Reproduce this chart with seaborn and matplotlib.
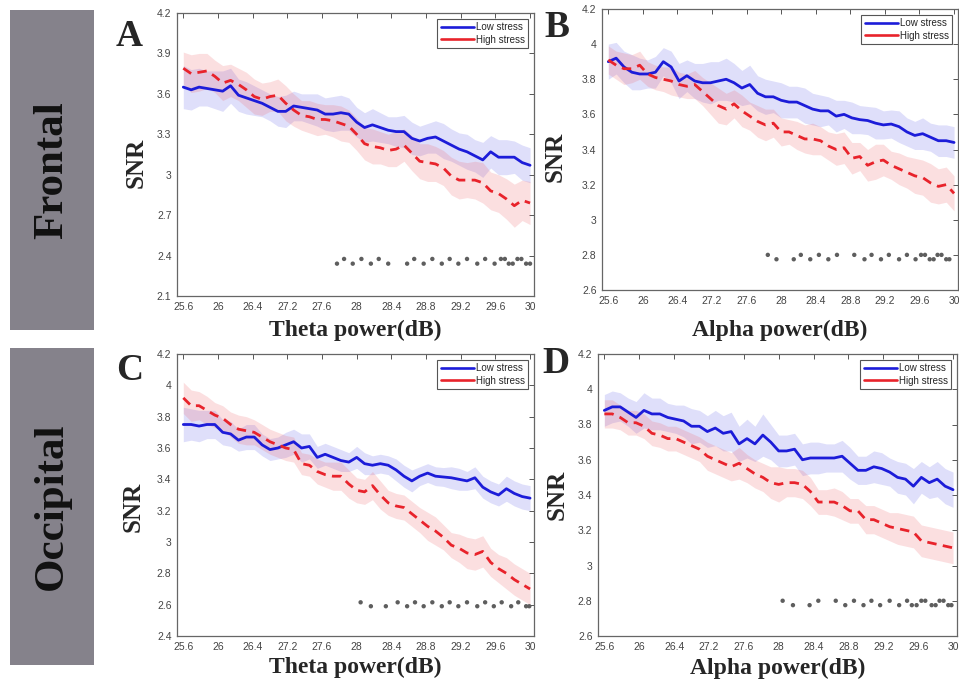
import numpy as np
import pandas as pd
import matplotlib
matplotlib.use("Agg")
import matplotlib.pyplot as plt
import seaborn as sns
from matplotlib.lines import Line2D
from matplotlib.patches import Rectangle

# ---------------- data ----------------
power_db = np.round(np.arange(256, 301) / 10, 1)  # 25.6 ... 30.0
xtick_labels = ['25.6', '26', '26.4', '27.2', '27.6', '28', '28.4', '28.8', '29.2', '29.6', '30']
groups = ['Low stress', 'High stress']

# Panel A  (Frontal, theta)
a_low = [3.65, 3.63, 3.65, 3.64, 3.63, 3.62, 3.66, 3.59, 3.57, 3.55, 3.53, 3.50, 3.47, 3.47, 3.51,
         3.50, 3.49, 3.48, 3.45, 3.45, 3.46, 3.45, 3.39, 3.35, 3.37, 3.35, 3.33, 3.32, 3.32, 3.27,
         3.25, 3.27, 3.28, 3.25, 3.22, 3.19, 3.17, 3.14, 3.11, 3.17, 3.13, 3.13, 3.13, 3.09, 3.07]
a_low_err = [0.16, 0.15, 0.14, 0.13, 0.14, 0.15, 0.13, 0.12, 0.12, 0.11, 0.10, 0.10, 0.11, 0.12, 0.11,
             0.10, 0.11, 0.12, 0.12, 0.13, 0.13, 0.12, 0.11, 0.11, 0.12, 0.11, 0.10, 0.11, 0.12, 0.12,
             0.11, 0.11, 0.12, 0.13, 0.12, 0.12, 0.13, 0.12, 0.13, 0.12, 0.13, 0.13, 0.12, 0.13, 0.13]
a_high = [3.79, 3.75, 3.76, 3.77, 3.73, 3.68, 3.70, 3.67, 3.63, 3.58, 3.56, 3.58, 3.59, 3.53, 3.48,
          3.44, 3.43, 3.41, 3.41, 3.40, 3.38, 3.36, 3.30, 3.23, 3.21, 3.20, 3.18, 3.19, 3.22, 3.16,
          3.10, 3.09, 3.08, 3.05, 2.99, 2.96, 2.96, 2.96, 2.94, 2.88, 2.86, 2.82, 2.77, 2.81, 2.79]
a_high_err = [0.12, 0.14, 0.14, 0.13, 0.12, 0.13, 0.12, 0.12, 0.13, 0.13, 0.12, 0.11, 0.12, 0.13, 0.12,
              0.11, 0.12, 0.12, 0.11, 0.12, 0.13, 0.12, 0.12, 0.12, 0.13, 0.12, 0.12, 0.13, 0.12, 0.13,
              0.13, 0.14, 0.13, 0.13, 0.14, 0.14, 0.13, 0.14, 0.15, 0.14, 0.14, 0.15, 0.16, 0.15, 0.16]
a_sig_x = [27.55, 27.64, 27.75, 27.86, 27.98, 28.08, 28.20, 28.44, 28.53, 28.65, 28.76, 28.88, 28.98,
           29.09, 29.20, 29.33, 29.43, 29.55, 29.63, 29.68, 29.73, 29.78, 29.84, 29.89, 29.95, 30.0]
a_sig_y = [2.34, 2.375, 2.34, 2.375, 2.34, 2.375, 2.34, 2.34, 2.375, 2.34, 2.375, 2.34, 2.375,
           2.34, 2.375, 2.34, 2.375, 2.34, 2.375, 2.375, 2.34, 2.34, 2.375, 2.375, 2.34, 2.34]

# Panel B  (Frontal, alpha)
b_low = [3.90, 3.92, 3.87, 3.84, 3.83, 3.83, 3.84, 3.90, 3.87, 3.79, 3.82, 3.79, 3.78, 3.78, 3.79,
         3.80, 3.78, 3.75, 3.77, 3.72, 3.70, 3.70, 3.68, 3.67, 3.67, 3.65, 3.63, 3.62, 3.62, 3.59,
         3.60, 3.58, 3.57, 3.565, 3.55, 3.54, 3.545, 3.53, 3.50, 3.48, 3.49, 3.47, 3.45, 3.45, 3.44]
b_low_err = [0.10, 0.09, 0.09, 0.10, 0.09, 0.08, 0.09, 0.08, 0.09, 0.10, 0.09, 0.10, 0.11, 0.12, 0.11,
             0.12, 0.11, 0.10, 0.11, 0.10, 0.10, 0.09, 0.10, 0.09, 0.09, 0.10, 0.09, 0.09, 0.08, 0.09,
             0.08, 0.09, 0.08, 0.08, 0.09, 0.08, 0.08, 0.09, 0.08, 0.08, 0.09, 0.08, 0.09, 0.09, 0.09]
b_high = [3.91, 3.88, 3.86, 3.86, 3.88, 3.83, 3.81, 3.80, 3.79, 3.77, 3.76, 3.77, 3.73, 3.69, 3.65,
          3.63, 3.66, 3.62, 3.59, 3.56, 3.54, 3.55, 3.50, 3.50, 3.48, 3.46, 3.46, 3.45, 3.42, 3.40,
          3.41, 3.35, 3.36, 3.31, 3.33, 3.34, 3.31, 3.29, 3.27, 3.25, 3.24, 3.21, 3.19, 3.20, 3.15]
b_high_err = [0.08, 0.08, 0.09, 0.08, 0.08, 0.07, 0.07, 0.07, 0.08, 0.07, 0.07, 0.08, 0.08, 0.09, 0.10,
              0.09, 0.08, 0.09, 0.08, 0.09, 0.09, 0.08, 0.08, 0.07, 0.08, 0.08, 0.09, 0.08, 0.08, 0.09,
              0.09, 0.09, 0.08, 0.09, 0.10, 0.09, 0.08, 0.09, 0.09, 0.10, 0.10, 0.11, 0.10, 0.10, 0.10]
b_sig_x = [27.63, 27.74, 27.96, 28.05, 28.17, 28.28, 28.40, 28.51, 28.73, 28.86, 28.95, 29.07,
           29.17, 29.30, 29.40, 29.51, 29.58, 29.63, 29.69, 29.74, 29.79, 29.84, 29.90, 29.94]
b_sig_y = [2.80, 2.775, 2.775, 2.80, 2.775, 2.80, 2.775, 2.80, 2.80, 2.775, 2.80, 2.775,
           2.80, 2.775, 2.80, 2.775, 2.80, 2.80, 2.775, 2.775, 2.80, 2.80, 2.775, 2.775]

# Panel C  (Occipital, theta)
c_low = [3.75, 3.75, 3.74, 3.75, 3.75, 3.70, 3.69, 3.65, 3.67, 3.67, 3.62, 3.59, 3.60, 3.62, 3.64,
         3.60, 3.61, 3.54, 3.56, 3.54, 3.52, 3.51, 3.54, 3.50, 3.49, 3.50, 3.49, 3.46, 3.42, 3.39,
         3.42, 3.44, 3.42, 3.415, 3.41, 3.40, 3.39, 3.41, 3.35, 3.32, 3.30, 3.34, 3.31, 3.29, 3.28]
c_low_err = [0.11, 0.10, 0.10, 0.09, 0.09, 0.08, 0.08, 0.07, 0.08, 0.08, 0.07, 0.07, 0.07, 0.08, 0.08,
             0.09, 0.08, 0.07, 0.07, 0.07, 0.07, 0.06, 0.07, 0.07, 0.06, 0.06, 0.06, 0.07, 0.07, 0.07,
             0.06, 0.06, 0.06, 0.06, 0.07, 0.07, 0.06, 0.07, 0.07, 0.07, 0.07, 0.08, 0.08, 0.08, 0.08]
c_high = [3.92, 3.87, 3.87, 3.84, 3.81, 3.79, 3.75, 3.72, 3.71, 3.70, 3.67, 3.64, 3.62, 3.60, 3.59,
          3.50, 3.49, 3.45, 3.43, 3.42, 3.42, 3.37, 3.33, 3.32, 3.36, 3.30, 3.25, 3.23, 3.22, 3.18,
          3.14, 3.10, 3.07, 3.03, 2.98, 2.96, 2.93, 2.92, 2.94, 2.87, 2.83, 2.80, 2.76, 2.73, 2.70]
c_high_err = [0.10, 0.10, 0.09, 0.09, 0.08, 0.08, 0.08, 0.09, 0.09, 0.08, 0.08, 0.08, 0.08, 0.08, 0.08,
              0.07, 0.07, 0.08, 0.08, 0.09, 0.09, 0.09, 0.08, 0.08, 0.09, 0.09, 0.08, 0.08, 0.08, 0.08,
              0.08, 0.09, 0.09, 0.08, 0.08, 0.09, 0.10, 0.10, 0.10, 0.09, 0.09, 0.10, 0.10, 0.10, 0.10]
c_sig_x = [27.85, 27.98, 28.17, 28.32, 28.44, 28.54, 28.65, 28.76, 28.88, 28.98, 29.09, 29.20,
           29.33, 29.43, 29.54, 29.64, 29.76, 29.85, 29.95, 29.99]
c_sig_y = [2.615, 2.59, 2.59, 2.615, 2.59, 2.615, 2.59, 2.615, 2.59, 2.615, 2.59, 2.615,
           2.59, 2.615, 2.59, 2.615, 2.59, 2.615, 2.59, 2.59]

# Panel D  (Occipital, alpha)
d_low = [3.88, 3.90, 3.90, 3.87, 3.84, 3.88, 3.86, 3.86, 3.84, 3.83, 3.82, 3.79, 3.79, 3.76, 3.78,
         3.75, 3.76, 3.69, 3.72, 3.69, 3.74, 3.70, 3.65, 3.65, 3.66, 3.60, 3.61, 3.61, 3.61, 3.61,
         3.62, 3.58, 3.54, 3.54, 3.56, 3.55, 3.53, 3.50, 3.49, 3.45, 3.50, 3.47, 3.49, 3.45, 3.43]
d_low_err = [0.09, 0.09, 0.08, 0.08, 0.09, 0.10, 0.09, 0.09, 0.08, 0.08, 0.09, 0.10, 0.09, 0.09, 0.10,
             0.10, 0.11, 0.10, 0.11, 0.10, 0.12, 0.10, 0.09, 0.09, 0.09, 0.09, 0.09, 0.09, 0.08, 0.08,
             0.09, 0.09, 0.08, 0.08, 0.09, 0.09, 0.08, 0.09, 0.09, 0.10, 0.09, 0.09, 0.10, 0.10, 0.10]
d_high = [3.86, 3.86, 3.84, 3.81, 3.81, 3.79, 3.75, 3.74, 3.72, 3.72, 3.70, 3.68, 3.66, 3.62, 3.60,
          3.58, 3.56, 3.58, 3.55, 3.52, 3.50, 3.47, 3.46, 3.47, 3.47, 3.46, 3.42, 3.36, 3.36, 3.36,
          3.34, 3.31, 3.31, 3.26, 3.26, 3.24, 3.22, 3.21, 3.20, 3.19, 3.14, 3.13, 3.12, 3.11, 3.10]
d_high_err = [0.08, 0.08, 0.07, 0.07, 0.07, 0.07, 0.07, 0.07, 0.07, 0.07, 0.07, 0.07, 0.07, 0.08, 0.08,
              0.08, 0.08, 0.09, 0.08, 0.08, 0.08, 0.09, 0.10, 0.08, 0.08, 0.08, 0.08, 0.07, 0.07, 0.08,
              0.08, 0.07, 0.07, 0.08, 0.08, 0.08, 0.08, 0.09, 0.09, 0.09, 0.09, 0.09, 0.09, 0.09, 0.09]
d_sig_x = [27.85, 27.98, 28.19, 28.30, 28.52, 28.64, 28.75, 28.87, 28.97, 29.08, 29.20, 29.32,
           29.42, 29.48, 29.54, 29.60, 29.65, 29.73, 29.78, 29.83, 29.88, 29.94, 29.98]
d_sig_y = [2.80, 2.775, 2.775, 2.80, 2.80, 2.775, 2.80, 2.775, 2.80, 2.775, 2.80, 2.775,
           2.80, 2.775, 2.775, 2.80, 2.80, 2.775, 2.775, 2.80, 2.80, 2.775, 2.775]

a_yticks = [2.1, 2.4, 2.7, 3.0, 3.3, 3.6, 3.9, 4.2]
b_yticks = [2.6, 2.8, 3.0, 3.2, 3.4, 3.6, 3.8, 4.0, 4.2]
c_yticks = [2.4, 2.6, 2.8, 3.0, 3.2, 3.4, 3.6, 3.8, 4.0, 4.2]
d_yticks = [2.6, 2.8, 3.0, 3.2, 3.4, 3.6, 3.8, 4.0, 4.2]

# ---------------- style ----------------
sns.set_style("white")
plt.rcParams['font.family'] = ['Liberation Sans', 'DejaVu Sans']

W, H = 959, 681
fig = plt.figure(figsize=(W / 100, H / 100), dpi=100)
fig.patch.set_facecolor('white')

BLUE = '#1c1cd9'
RED = '#e8232b'
palette = {'Low stress': BLUE, 'High stress': RED}
dashes = {'Low stress': '', 'High stress': (3.4, 2.3)}
band = {'Low stress': ('#8c8cf0', 0.28), 'High stress': ('#f06870', 0.21)}
SERIF = ['Liberation Serif', 'DejaVu Serif']


def px_axes(left, top, right, bottom):
    return fig.add_axes([left / W, 1 - bottom / H, (right - left) / W, (bottom - top) / H])


panels = [
    dict(box=(177, 13, 534, 296), letter='A', lpos=(116, 46), xlabel='Theta power(dB)',
         low=a_low, low_err=a_low_err, high=a_high, high_err=a_high_err,
         sx=a_sig_x, sy=a_sig_y, ylim=(2.1, 4.2), yticks=a_yticks, snr=(136, 163), xl=330),
    dict(box=(602, 9, 958, 290), letter='B', lpos=(544, 37), xlabel='Alpha power(dB)',
         low=b_low, low_err=b_low_err, high=b_high, high_err=b_high_err,
         sx=b_sig_x, sy=b_sig_y, ylim=(2.6, 4.2), yticks=b_yticks, snr=(555, 157), xl=330),
    dict(box=(177, 354, 534, 636), letter='C', lpos=(116, 380), xlabel='Theta power(dB)',
         low=c_low, low_err=c_low_err, high=c_high, high_err=c_high_err,
         sx=c_sig_x, sy=c_sig_y, ylim=(2.4, 4.2), yticks=c_yticks, snr=(133, 507), xl=667),
    dict(box=(598, 354, 957, 636), letter='D', lpos=(542, 373), xlabel='Alpha power(dB)',
         low=d_low, low_err=d_low_err, high=d_high, high_err=d_high_err,
         sx=d_sig_x, sy=d_sig_y, ylim=(2.6, 4.2), yticks=d_yticks, snr=(557, 495), xl=668),
]

xtick_pos = np.linspace(25.6, 30.0, len(xtick_labels))

for p in panels:
    l, t, r, b = p['box']
    ax = px_axes(l, t, r, b)
    df = pd.DataFrame({
        'power': np.concatenate([power_db, power_db]),
        'snr': np.concatenate([p['low'], p['high']]),
        'err': np.concatenate([p['low_err'], p['high_err']]),
        'group': ['Low stress'] * len(power_db) + ['High stress'] * len(power_db),
    })
    # shaded bands
    for g in groups:
        sub = df[df['group'] == g]
        fc, al = band[g]
        ax.fill_between(sub['power'], sub['snr'] - sub['err'], sub['snr'] + sub['err'],
                        color=fc, alpha=al, lw=0, zorder=1)
    sns.lineplot(data=df, x='power', y='snr', hue='group', style='group',
                 palette=palette, dashes=dashes, hue_order=groups, style_order=groups,
                 legend=False, lw=2.0, ax=ax, zorder=3)
    sig = pd.DataFrame({'x': p['sx'], 'y': p['sy']})
    sns.scatterplot(data=sig, x='x', y='y', color='#5e5e5e', s=10, marker='o',
                    edgecolor='none', ax=ax, zorder=4)

    ax.set_xlim(25.52, 30.05)
    ax.set_ylim(*p['ylim'])
    ax.set_xticks(xtick_pos)
    ax.set_xticklabels(xtick_labels)
    ax.set_yticks(p['yticks'])
    ax.set_yticklabels([f'{v:g}' for v in p['yticks']])
    ax.tick_params(direction='in', top=True, right=True, length=3.5, width=0.7,
                   color='#555555', labelsize=7.5, labelcolor='#444444', pad=4)
    for s in ax.spines.values():
        s.set_color('#666666')
        s.set_linewidth(0.9)
    ax.set_facecolor('white')

    # axis labels
    ax.set_ylabel('SNR', fontsize=18, fontweight='bold', family=SERIF, ha='center', va='center')
    ax.yaxis.set_label_coords((p['snr'][0] - l) / (r - l), (b - p['snr'][1]) / (b - t))
    ax.set_xlabel(p['xlabel'], fontsize=17, fontweight='bold', family=SERIF, va='center')
    ax.xaxis.set_label_coords(0.5, (b - p['xl']) / (b - t))

    # legend
    handles = [Line2D([], [], color=BLUE, lw=1.9), Line2D([], [], color=RED, lw=1.9)]
    leg = ax.legend(handles, groups, loc='upper right', fontsize=7, handlelength=3.4,
                    handletextpad=0.2, borderaxespad=0.6, borderpad=0.35, labelspacing=0.25,
                    fancybox=False, framealpha=1, edgecolor='#555555')
    leg.get_frame().set_linewidth(0.8)

    # panel letter
    fig.text(p['lpos'][0] / W, 1 - p['lpos'][1] / H, p['letter'], fontsize=27,
             fontweight='bold', family=SERIF, ha='left', va='baseline')

# left region boxes
GRAY = '#85828b'
for (top, bot, label) in [(10, 330, 'Frontal'), (348, 665, 'Occipital')]:
    fig.patches.append(Rectangle((10 / W, 1 - bot / H), 84 / W, (bot - top) / H,
                                 transform=fig.transFigure, facecolor=GRAY, edgecolor='none'))
    fig.text(52 / W, 1 - ((top + bot) / 2) / H, label, rotation=90, fontsize=31,
             fontweight='bold', family=SERIF, ha='center', va='center', color='#111111')

fig.savefig('out.png', dpi=100, facecolor='white')
